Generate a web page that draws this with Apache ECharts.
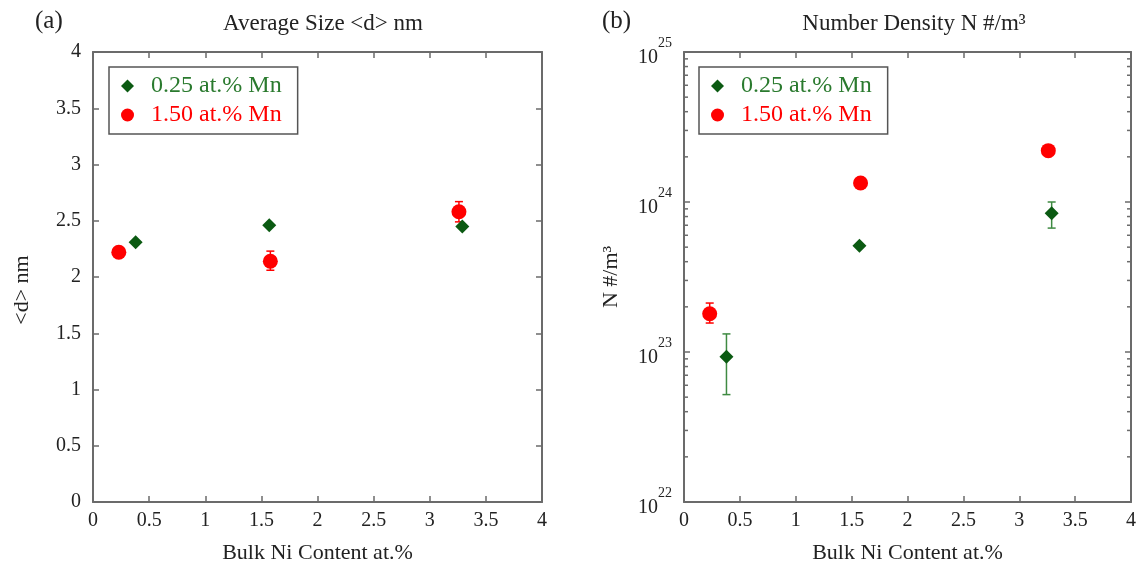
<!DOCTYPE html>
<html>
<head>
<meta charset="utf-8">
<script src="https://cdn.jsdelivr.net/npm/echarts@6/dist/echarts.min.js"></script>
<style>html,body{margin:0;padding:0;background:#fff}#c{width:1139px;height:569px}</style>
</head>
<body>
<div id="c"></div>
<script>
// ---- data ----
const seriesNames = ['0.25 at.% Mn', '1.50 at.% Mn'];
const xTickLabels = ['0', '0.5', '1', '1.5', '2', '2.5', '3', '3.5', '4'];
const sizeTickLabels = ['0', '0.5', '1', '1.5', '2', '2.5', '3', '3.5', '4'];
const densDecades = [22, 23, 24, 25];

const niX_025 = [0.38, 1.57, 3.29];
const size_025 = [2.31, 2.46, 2.45];
const niX_150 = [0.23, 1.58, 3.26];
const size_150 = [2.22, 2.14, 2.58];
const size_150_lo = [null, 2.06, 2.49];
const size_150_hi = [null, 2.23, 2.67];

const dens_025 = [9.3e22, 5.1e23, 8.4e23];
const dens_025_lo = [5.2e22, null, 6.7e23];
const dens_025_hi = [1.32e23, null, 1.0e24];
const dens_150 = [1.8e23, 1.34e24, 2.2e24];
const dens_150_lo = [1.56e23, null, null];
const dens_150_hi = [2.12e23, null, null];

const C_GREEN = '#0b5a12';
const C_GREEN_TXT = '#2a7a2e';
const C_GREEN_ERR = '#3f8a42';
const C_RED = '#ff0000';
const FONT = 'Liberation Serif';
const AXC = '#6b6b6b';

const pts = (xs, ys) => xs.map((x, i) => [x, ys[i]]);
const errs = (xs, lo, hi) => xs.map((x, i) => lo[i] == null ? null : [x, lo[i], hi[i]]).filter(d => d);

function errRender(color) {
  return function (params, api) {
    const x = api.value(0), lo = api.value(1), hi = api.value(2);
    const a = api.coord([x, lo]), b = api.coord([x, hi]);
    const w = 4;
    const st = { stroke: color, lineWidth: 1.5 };
    return { type: 'group', children: [
      { type: 'line', shape: { x1: a[0], y1: a[1], x2: b[0], y2: b[1] }, style: st },
      { type: 'line', shape: { x1: a[0] - w, y1: a[1], x2: a[0] + w, y2: a[1] }, style: st },
      { type: 'line', shape: { x1: b[0] - w, y1: b[1], x2: b[0] + w, y2: b[1] }, style: st }
    ]};
  };
}

// minor ticks for log axis (2..9 x 10^k)
const minorVals = [];
for (let k = 0; k < densDecades.length - 1; k++) {
  for (let m = 2; m <= 9; m++) minorVals.push([m * Math.pow(10, densDecades[k])]);
}
function minorRender(params, api) {
  const v = api.value(0);
  const l = api.coord([0, v]), r = api.coord([4, v]);
  const len = 4;
  const st = { stroke: AXC, lineWidth: 1.5 };
  return { type: 'group', children: [
    { type: 'line', shape: { x1: l[0], y1: l[1], x2: l[0] + len, y2: l[1] }, style: st },
    { type: 'line', shape: { x1: r[0], y1: r[1], x2: r[0] - len, y2: r[1] }, style: st }
  ]};
}

const axisLine = { show: true, onZero: false, lineStyle: { color: AXC, width: 2 } };
const tick = { show: true, inside: true, length: 6, lineStyle: { color: AXC, width: 1.5 } };
const lbl = { fontFamily: FONT, fontSize: 20, color: '#222' };
const nameStyle = { fontFamily: FONT, fontSize: 22, color: '#222' };

function xAxes(gi) {
  return [
    { gridIndex: gi, type: 'value', position: 'bottom', min: 0, max: 4, interval: 0.5,
      axisLine, axisTick: tick, splitLine: { show: false },
      axisLabel: Object.assign({ margin: 9, formatter: v => xTickLabels[Math.round(v / 0.5)] }, lbl),
      name: 'Bulk Ni Content at.%', nameLocation: 'middle', nameGap: 40, nameTextStyle: nameStyle },
    { gridIndex: gi, type: 'value', position: 'top', min: 0, max: 4, interval: 0.5,
      axisLine, axisTick: tick, splitLine: { show: false }, axisLabel: { show: false } }
  ];
}

const option = {
  backgroundColor: '#fff',
  animation: false,
  textStyle: { fontFamily: FONT },
  title: [
    { text: '(a)', left: 30, top: 4, textStyle: { fontFamily: FONT, fontSize: 25, fontWeight: 'normal', color: '#222' } },
    { text: 'Average Size <d> nm', left: 318, top: 7, textAlign: 'center', textStyle: { fontFamily: FONT, fontSize: 23, fontWeight: 'normal', color: '#222' } },
    { text: '(b)', left: 597, top: 4, textStyle: { fontFamily: FONT, fontSize: 25, fontWeight: 'normal', color: '#222' } },
    { text: 'Number Density N #/m³', left: 909, top: 7, textAlign: 'center', textStyle: { fontFamily: FONT, fontSize: 23, fontWeight: 'normal', color: '#222' } }
  ],
  grid: [
    { left: 93, top: 52, width: 449, height: 450 },
    { left: 684, top: 52, width: 447, height: 450 }
  ],
  legend: [0, 1].map(i => ({
    left: i === 0 ? 109 : 699, top: 67, orient: 'vertical',
    borderColor: '#555', borderWidth: 1.5, backgroundColor: '#fff',
    padding: [7, 16, 7, 12], itemGap: 5, itemWidth: 13, itemHeight: 13,
    textStyle: { fontFamily: FONT, fontSize: 24, padding: [0, 0, 0, 12] },
    data: [
      { name: seriesNames[0], icon: 'diamond', itemStyle: { color: C_GREEN, opacity: 1 }, textStyle: { color: C_GREEN_TXT } },
      { name: seriesNames[1], icon: 'circle', itemStyle: { color: C_RED, opacity: 1 }, textStyle: { color: C_RED } }
    ]
  })),
  xAxis: xAxes(0).concat(xAxes(1)),
  yAxis: [
    { gridIndex: 0, type: 'value', position: 'left', min: 0, max: 4, interval: 0.5,
      axisLine, axisTick: tick, splitLine: { show: false },
      axisLabel: Object.assign({ margin: 12, formatter: v => sizeTickLabels[Math.round(v / 0.5)] }, lbl),
      name: '<d> nm', nameLocation: 'middle', nameGap: 60, nameRotate: 90, nameTextStyle: Object.assign({ padding: [0, 26, 0, 0] }, nameStyle) },
    { gridIndex: 0, type: 'value', position: 'right', min: 0, max: 4, interval: 0.5,
      axisLine, axisTick: tick, splitLine: { show: false }, axisLabel: { show: false } },
    { gridIndex: 1, type: 'log', logBase: 10, position: 'left', min: Math.pow(10, densDecades[0]), max: Math.pow(10, densDecades[3]),
      axisLine, axisTick: tick, splitLine: { show: false },
      axisLabel: Object.assign({ margin: 12,
        formatter: v => '{b|10}{s|' + Math.round(Math.log10(v)) + '}',
        rich: { b: { fontFamily: FONT, fontSize: 20, color: '#222', lineHeight: 32, verticalAlign: 'bottom' },
                s: { fontFamily: FONT, fontSize: 14, color: '#222', lineHeight: 32, verticalAlign: 'top' } } }, lbl),
      name: 'N #/m³', nameLocation: 'middle', nameGap: 62, nameRotate: 90, nameTextStyle: nameStyle },
    { gridIndex: 1, type: 'log', logBase: 10, position: 'right', min: Math.pow(10, densDecades[0]), max: Math.pow(10, densDecades[3]),
      axisLine, axisTick: tick, splitLine: { show: false }, axisLabel: { show: false } }
  ],
  series: [
    { type: 'custom', name: 'errA150', xAxisIndex: 0, yAxisIndex: 0, renderItem: errRender(C_RED),
      data: errs(niX_150, size_150_lo, size_150_hi), encode: { x: 0, y: [1, 2] }, z: 3 },
    { type: 'scatter', name: seriesNames[0], xAxisIndex: 0, yAxisIndex: 0, symbol: 'diamond', symbolSize: 14,
      itemStyle: { color: C_GREEN, opacity: 1 }, data: pts(niX_025, size_025), z: 4 },
    { type: 'scatter', name: seriesNames[1], xAxisIndex: 0, yAxisIndex: 0, symbol: 'circle', symbolSize: 15,
      itemStyle: { color: C_RED, opacity: 1 }, data: pts(niX_150, size_150), z: 4 },

    { type: 'custom', name: 'minorTicks', xAxisIndex: 2, yAxisIndex: 2, renderItem: minorRender,
      data: minorVals, encode: { y: 0 }, silent: true, z: 1 },
    { type: 'custom', name: 'errB025', xAxisIndex: 2, yAxisIndex: 2, renderItem: errRender(C_GREEN_ERR),
      data: errs(niX_025, dens_025_lo, dens_025_hi), encode: { x: 0, y: [1, 2] }, z: 3 },
    { type: 'custom', name: 'errB150', xAxisIndex: 2, yAxisIndex: 2, renderItem: errRender(C_RED),
      data: errs(niX_150, dens_150_lo, dens_150_hi), encode: { x: 0, y: [1, 2] }, z: 3 },
    { type: 'scatter', name: seriesNames[0], xAxisIndex: 2, yAxisIndex: 2, symbol: 'diamond', symbolSize: 14,
      itemStyle: { color: C_GREEN, opacity: 1 }, data: pts(niX_025, dens_025), z: 4 },
    { type: 'scatter', name: seriesNames[1], xAxisIndex: 2, yAxisIndex: 2, symbol: 'circle', symbolSize: 15,
      itemStyle: { color: C_RED, opacity: 1 }, data: pts(niX_150, dens_150), z: 4 }
  ]
};

const chart = echarts.init(document.getElementById('c'), null, { renderer: 'canvas' });
chart.setOption(option);
</script>
</body>
</html>
